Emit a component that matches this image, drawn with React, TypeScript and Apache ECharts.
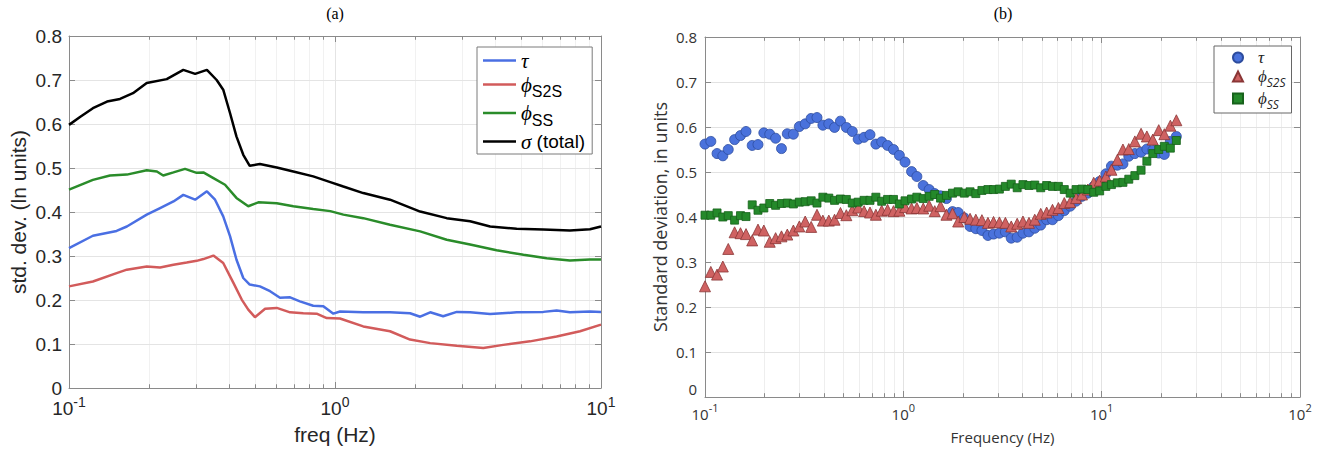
import React, { useEffect, useRef } from 'react';
import * as echarts from 'echarts';

// ---------- Panel (a): std. dev. vs freq (line curves) ----------
const tauA: [number, number][] = [
  [0.1, 0.318], [0.123, 0.346], [0.151, 0.357], [0.165, 0.367], [0.196, 0.394], [0.22, 0.409],
  [0.247, 0.424], [0.269, 0.439], [0.298, 0.428], [0.33, 0.447], [0.354, 0.428], [0.38, 0.39],
  [0.403, 0.345], [0.426, 0.292], [0.452, 0.25], [0.478, 0.235], [0.522, 0.231], [0.57, 0.22],
  [0.621, 0.205], [0.678, 0.206], [0.738, 0.197], [0.828, 0.187], [0.904, 0.186], [0.986, 0.169],
  [1.044, 0.174], [1.277, 0.172], [1.61, 0.172], [1.915, 0.17], [2.09, 0.162], [2.28, 0.172],
  [2.55, 0.163], [2.87, 0.173], [3.22, 0.172], [3.83, 0.168], [4.82, 0.172], [6.07, 0.173],
  [6.81, 0.176], [7.64, 0.172], [9.09, 0.174], [10, 0.173],
];
const phiS2SA: [number, number][] = [
  [0.1, 0.231], [0.123, 0.242], [0.151, 0.261], [0.165, 0.269], [0.196, 0.276], [0.22, 0.274],
  [0.247, 0.28], [0.277, 0.285], [0.302, 0.289], [0.32, 0.293], [0.349, 0.301], [0.38, 0.284],
  [0.415, 0.239], [0.446, 0.201], [0.472, 0.178], [0.5, 0.161], [0.546, 0.18], [0.604, 0.182],
  [0.678, 0.172], [0.76, 0.17], [0.853, 0.169], [0.931, 0.159], [1.044, 0.158], [1.277, 0.14],
  [1.61, 0.129], [1.915, 0.11], [2.28, 0.102], [2.87, 0.096], [3.61, 0.091], [4.29, 0.098],
  [5.41, 0.106], [6.81, 0.117], [8.34, 0.129], [10, 0.144],
];
const phiSSA: [number, number][] = [
  [0.1, 0.451], [0.123, 0.473], [0.1426, 0.483], [0.165, 0.485], [0.196, 0.495], [0.214, 0.492],
  [0.226, 0.483], [0.247, 0.49], [0.273, 0.498], [0.302, 0.489], [0.32, 0.49], [0.349, 0.477],
  [0.386, 0.462], [0.426, 0.432], [0.472, 0.413], [0.515, 0.422], [0.604, 0.42], [0.697, 0.413],
  [0.828, 0.407], [0.96, 0.402], [1.075, 0.394], [1.277, 0.386], [1.61, 0.371], [2.09, 0.356],
  [2.63, 0.337], [3.22, 0.326], [4.05, 0.313], [5.11, 0.303], [6.25, 0.295], [7.64, 0.29],
  [9.09, 0.292], [10, 0.292],
];
const sigmaA: [number, number][] = [
  [0.1, 0.598], [0.11, 0.616], [0.123, 0.636], [0.139, 0.651], [0.1555, 0.657], [0.174, 0.67],
  [0.196, 0.693], [0.233, 0.702], [0.269, 0.723], [0.298, 0.714], [0.33, 0.723], [0.359, 0.7],
  [0.38, 0.678], [0.403, 0.625], [0.426, 0.572], [0.452, 0.53], [0.478, 0.505], [0.522, 0.509],
  [0.604, 0.501], [0.697, 0.492], [0.828, 0.481], [0.96, 0.468], [1.075, 0.458], [1.277, 0.443],
  [1.61, 0.428], [2.09, 0.401], [2.63, 0.386], [3.22, 0.379], [3.83, 0.367], [4.82, 0.362],
  [6.07, 0.36], [7.64, 0.358], [9.09, 0.361], [10, 0.367],
];

// ---------- Panel (b): standard deviation vs frequency (markers) ----------
const freqB = [
  0.1, 0.107, 0.115, 0.123, 0.131, 0.141, 0.151, 0.161, 0.173, 0.185,
  0.198, 0.212, 0.227, 0.243, 0.26, 0.279, 0.299, 0.32, 0.343, 0.367,
  0.393, 0.421, 0.45, 0.482, 0.516, 0.553, 0.592, 0.634, 0.679, 0.727,
  0.778, 0.833, 0.892, 0.955, 1.02, 1.1, 1.17, 1.26, 1.35, 1.44,
  1.54, 1.65, 1.77, 1.89, 2.03, 2.17, 2.32, 2.49, 2.67, 2.85,
  3.05, 3.27, 3.5, 3.75, 4.01, 4.3, 4.6, 4.93, 5.28, 5.65,
  6.05, 6.48, 6.94, 7.43, 7.96, 8.52, 9.12, 9.77, 10.5, 11.2,
  12.0, 12.8, 13.7, 14.7, 15.8, 16.9, 18.1, 19.4, 20.7, 22.2,
  23.8,
];
const tauB = [
  0.562, 0.568, 0.541, 0.536, 0.55, 0.572, 0.581, 0.59, 0.559, 0.561,
  0.587, 0.584, 0.575, 0.552, 0.585, 0.584, 0.601, 0.607, 0.619, 0.621,
  0.604, 0.607, 0.599, 0.613, 0.599, 0.59, 0.573, 0.577, 0.583, 0.562,
  0.567, 0.559, 0.55, 0.537, 0.522, 0.501, 0.49, 0.47, 0.461, 0.452,
  0.447, 0.441, 0.412, 0.41, 0.398, 0.379, 0.374, 0.37, 0.359, 0.362,
  0.364, 0.367, 0.353, 0.355, 0.364, 0.367, 0.375, 0.382, 0.394, 0.394,
  0.403, 0.414, 0.424, 0.435, 0.446, 0.453, 0.468, 0.479, 0.496, 0.513,
  0.515, 0.518, 0.535, 0.541, 0.544, 0.551, 0.548, 0.542, 0.539, 0.568,
  0.579,
];
const phiS2SB = [
  0.246, 0.278, 0.272, 0.29, 0.329, 0.366, 0.364, 0.362, 0.348, 0.372,
  0.37, 0.345, 0.353, 0.357, 0.361, 0.37, 0.379, 0.39, 0.378, 0.405,
  0.392, 0.392, 0.394, 0.409, 0.404, 0.415, 0.421, 0.413, 0.41, 0.405,
  0.414, 0.416, 0.413, 0.414, 0.422, 0.419, 0.42, 0.419, 0.425, 0.413,
  0.424, 0.405, 0.408, 0.39, 0.4, 0.396, 0.394, 0.393, 0.387, 0.389,
  0.388, 0.387, 0.379, 0.385, 0.39, 0.387, 0.394, 0.407, 0.41, 0.416,
  0.42, 0.431, 0.433, 0.442, 0.45, 0.461, 0.476, 0.481, 0.49, 0.505,
  0.527, 0.55, 0.551, 0.568, 0.585, 0.579, 0.572, 0.593, 0.584, 0.603,
  0.615,
];
const phiSSB = [
  0.404, 0.404, 0.409, 0.4, 0.403, 0.393, 0.403, 0.401, 0.427, 0.415,
  0.42, 0.43, 0.426, 0.43, 0.431, 0.429, 0.433, 0.434, 0.436, 0.431,
  0.444, 0.442, 0.437, 0.44, 0.439, 0.431, 0.433, 0.437, 0.437, 0.444,
  0.435, 0.439, 0.439, 0.429, 0.436, 0.44, 0.444, 0.441, 0.446, 0.45,
  0.442, 0.448, 0.453, 0.456, 0.453, 0.456, 0.452, 0.459, 0.461, 0.461,
  0.462, 0.468, 0.473, 0.465, 0.472, 0.47, 0.471, 0.465, 0.47, 0.468,
  0.468, 0.461, 0.453, 0.461, 0.462, 0.461, 0.455, 0.458, 0.468, 0.472,
  0.476, 0.477, 0.484, 0.492, 0.504, 0.524, 0.541, 0.55, 0.557, 0.553,
  0.57,
];

// minor (log) tick positions
const minorA = [0.2, 0.3, 0.4, 0.5, 0.6, 0.7, 0.8, 0.9, 2, 3, 4, 5, 6, 7, 8, 9];
const minorB = [0.2, 0.3, 0.4, 0.5, 0.6, 0.7, 0.8, 0.9, 2, 3, 4, 5, 6, 7, 8, 9, 20, 30, 40, 50, 60, 70, 80, 90];

const FONT_A = '"Liberation Sans", Arial, sans-serif';
const FONT_B = '"Open Sans", "DejaVu Sans", sans-serif';
const SERIF = '"Liberation Serif", "DejaVu Serif", "Times New Roman", serif';

const expFmt = (v: number) => `{b|10}{s|${Math.round(Math.log10(v))}}`;

function minorGridSeries(xi: number, yi: number, freqs: number[], color: string) {
  return {
    type: 'line', name: '_grid' + xi, xAxisIndex: xi, yAxisIndex: yi, data: [], silent: true, z: 1,
    markLine: {
      silent: true, z: 1, symbol: ['none', 'none'], label: { show: false }, animation: false,
      lineStyle: { color, width: 1, type: 'solid' },
      data: freqs.map((f) => ({ xAxis: f })),
    },
  };
}
function minorTickSeries(xi: number, yi: number, freqs: number[], len: number, color: string) {
  const data: any[] = [];
  freqs.forEach((f) => {
    data.push([{ coord: [f, 0] }, { coord: [f, len] }]);
    data.push([{ coord: [f, 0.8] }, { coord: [f, 0.8 - len] }]);
  });
  return {
    type: 'line', name: '_tick' + xi, xAxisIndex: xi, yAxisIndex: yi, data: [], silent: true, z: 4,
    markLine: {
      silent: true, z: 6, symbol: ['none', 'none'], label: { show: false }, animation: false,
      lineStyle: { color, width: 1, type: 'solid' },
      data,
    },
  };
}

const AX_A = '#8a8a8a';
const AX_B = '#8a8a8a';

export default function App() {
  const ref = useRef<HTMLDivElement>(null);
  useEffect(() => {
    if (!ref.current) return;
    const chart = echarts.init(ref.current, undefined, { renderer: 'svg' });
    const xLog = (grid: number, pos: 'bottom' | 'top', max: number, font: string, size: number, sup: number, color: string, axc: string, showLabel: boolean, margin: number, lh: number) => ({
      type: 'log', logBase: 10, gridIndex: grid, position: pos, min: 0.1, max,
      axisLine: { show: true, onZero: false, lineStyle: { color: axc, width: 1 } },
      axisTick: { show: true, inside: true, length: 6, lineStyle: { color: axc } },
      axisLabel: {
        show: showLabel, margin, formatter: expFmt,
        rich: {
          b: { fontFamily: font, fontSize: size, color, lineHeight: lh, verticalAlign: 'bottom' },
          s: { fontFamily: font, fontSize: sup, color, verticalAlign: 'top' },
        },
      },
      splitLine: { show: pos === 'bottom', lineStyle: { color: grid === 0 ? '#e4e4e4' : '#e2e2e2', width: 1 } },
      z: 3,
    });
    const yVal = (grid: number, pos: 'left' | 'right', font: string, size: number, color: string, axc: string, showLabel: boolean, margin: number, liftZero: boolean) => ({
      type: 'value', gridIndex: grid, position: pos, min: 0, max: 0.8, interval: 0.1,
      axisLine: { show: true, lineStyle: { color: axc, width: 1 } },
      axisTick: { show: true, inside: true, length: 6, lineStyle: { color: axc } },
      axisLabel: {
        show: showLabel, margin, fontFamily: font, fontSize: size, color,
        formatter: liftZero ? (v: number) => (Math.abs(v) < 1e-9 ? '{z|0}' : String(Math.round(v * 10) / 10)) : undefined,
        rich: liftZero ? { z: { fontFamily: font, fontSize: size, color, padding: [0, 0, 16, 0] } } : undefined,
      },
      splitLine: { show: pos === 'left', lineStyle: { color: grid === 0 ? '#e4e4e4' : '#e2e2e2', width: 1 } },
      z: 3,
    });

    const xA0: any = xLog(0, 'bottom', 10, FONT_A, 19, 14, '#262626', AX_A, true, 7, 23);
    xA0.name = 'freq (Hz)';
    xA0.nameLocation = 'middle';
    xA0.nameGap = 36;
    xA0.nameTextStyle = { fontFamily: FONT_A, fontSize: 21, color: '#262626' };
    const xA1 = xLog(0, 'top', 10, FONT_A, 19, 14, '#262626', AX_A, false, 6, 23);
    const xB0: any = xLog(1, 'bottom', 100, FONT_B, 15, 11, '#333', AX_B, true, 5, 19);
    xB0.name = 'Frequency (Hz)';
    xB0.nameLocation = 'middle';
    xB0.nameGap = 32;
    xB0.nameTextStyle = { fontFamily: FONT_B, fontSize: 15, color: '#333' };
    const xB1 = xLog(1, 'top', 100, FONT_B, 15, 11, '#333', AX_B, false, 5, 19);

    const yA0: any = yVal(0, 'left', FONT_A, 19, '#262626', AX_A, true, 7, false);
    yA0.name = 'std. dev. (ln units)';
    yA0.nameLocation = 'middle';
    yA0.nameGap = 40;
    yA0.nameTextStyle = { fontFamily: FONT_A, fontSize: 21, color: '#262626' };
    const yA1 = yVal(0, 'right', FONT_A, 19, '#262626', AX_A, false, 7, false);
    const yB0: any = yVal(1, 'left', FONT_B, 15, '#333', AX_B, true, 8, true);
    yB0.name = 'Standard deviation, in units';
    yB0.nameLocation = 'middle';
    yB0.nameGap = 36;
    yB0.nameTextStyle = { fontFamily: FONT_B, fontSize: 18, color: '#333' };
    const yB1 = yVal(1, 'right', FONT_B, 15, '#333', AX_B, false, 8, false);

    const lineS = (name: string, data: [number, number][], color: string) => ({
      type: 'line', name, data, xAxisIndex: 0, yAxisIndex: 0, showSymbol: false, symbol: 'none',
      lineStyle: { color, width: 2.5 }, itemStyle: { color }, z: 3,
    });
    const scatS = (name: string, vals: number[], symbol: string, size: number, color: string, border: string) => ({
      type: 'scatter', name, data: freqB.map((f, i) => [f, vals[i]]), xAxisIndex: 2, yAxisIndex: 2,
      symbol, symbolSize: size, itemStyle: { color, borderColor: border, borderWidth: 0.8, opacity: 1 }, z: 3,
    });

    const fmtA = (n: string) => {
      if (n === 'τ') return '{gt|τ}';
      if (n === 'ϕS2S') return '{gp|ϕ}{sub|S2S}';
      if (n === 'ϕSS') return '{gp|ϕ}{sub|SS}';
      return '{gt|σ}{t| (total)}';
    };
    const fmtB = (n: string) => {
      if (n === 'τ (b)') return '{gt|τ}';
      if (n === 'ϕS2S (b)') return '{gp|ϕ}{sub|S2S}';
      return '{gp|ϕ}{sub|SS}';
    };

    const option: any = {
      animation: false,
      backgroundColor: '#ffffff',
      textStyle: { fontFamily: FONT_A },
      graphic: [
        { type: 'text', x: 335, y: 13, style: { text: '(a)', fill: '#000', font: '16px "Liberation Serif", serif', textAlign: 'center', textVerticalAlign: 'middle', verticalAlign: 'middle' } },
        { type: 'text', x: 1003, y: 13, style: { text: '(b)', fill: '#000', font: '16px "Liberation Serif", serif', textAlign: 'center', textVerticalAlign: 'middle', verticalAlign: 'middle' } },
      ],
      grid: [
        { left: 69, top: 36, width: 532, height: 352, containLabel: false },
        { left: 705, top: 37, width: 595, height: 360, containLabel: false },
      ],
      xAxis: [xA0, xA1, xB0, xB1],
      yAxis: [yA0, yA1, yB0, yB1],
      legend: [
        {
          orient: 'vertical', left: 477, top: 47, padding: [3, 7, 2, 6], itemGap: 3,
          itemWidth: 33, itemHeight: 2.5, selectedMode: false,
          backgroundColor: '#fff', borderColor: '#7a7a7a', borderWidth: 1,
          data: [
            { name: 'τ', icon: 'rect' }, { name: 'ϕS2S', icon: 'rect' },
            { name: 'ϕSS', icon: 'rect' }, { name: 'σ (total)', icon: 'rect' },
          ],
          formatter: fmtA,
          textStyle: {
            color: '#000',
            rich: {
              gt: { fontFamily: SERIF, fontStyle: 'italic', fontSize: 21, color: '#000' },
              gp: { fontFamily: SERIF, fontStyle: 'italic', fontSize: 21, color: '#000' },
              sub: { fontFamily: FONT_A, fontSize: 16, padding: [14, 0, 0, 0], color: '#000' },
              t: { fontFamily: FONT_A, fontSize: 19, color: '#000' },
            },
          },
        },
        {
          orient: 'vertical', left: 1214, top: 46, padding: [3, 6, 3, 18], itemGap: 2,
          itemWidth: 10, itemHeight: 10, selectedMode: false, symbolKeepAspect: true,
          backgroundColor: '#fff', borderColor: '#666', borderWidth: 1,
          data: [
            { name: 'τ (b)', icon: 'circle' },
            { name: 'ϕS2S (b)', icon: 'triangle' },
            { name: 'ϕSS (b)', icon: 'rect' },
          ],
          formatter: fmtB,
          textStyle: {
            color: '#222',
            rich: {
              gt: { fontFamily: SERIF, fontStyle: 'italic', fontSize: 17, color: '#222', padding: [0, 0, 0, 10] },
              gp: { fontFamily: SERIF, fontStyle: 'italic', fontSize: 17, color: '#222', padding: [0, 0, 0, 10] },
              sub: { fontFamily: FONT_B, fontStyle: 'italic', fontSize: 12, padding: [11, 0, 0, 0], color: '#222' },
            },
          },
        },
      ],
      series: [
        minorGridSeries(0, 0, minorA, '#f1f1f1'),
        minorGridSeries(2, 2, minorB, '#eeeeee'),
        lineS('τ', tauA, '#4a6fe3'),
        lineS('ϕS2S', phiS2SA, '#d25b5b'),
        lineS('ϕSS', phiSSA, '#2a8c2a'),
        lineS('σ (total)', sigmaA, '#000000'),
        scatS('τ (b)', tauB, 'circle', 10, '#4a72dc', '#2d4c9e'),
        scatS('ϕS2S (b)', phiS2SB, 'triangle', 11, '#cf6262', '#8a3636'),
        scatS('ϕSS (b)', phiSSB, 'rect', 8, '#24892a', '#17621b'),
        minorTickSeries(0, 0, minorA, 0.0085, AX_A),
        minorTickSeries(2, 2, minorB, 0.0085, AX_B),
      ],
    };
    chart.setOption(option);
    return () => chart.dispose();
  }, []);
  return <div ref={ref} style={{ position: 'fixed', left: 0, top: 0, width: 1327, height: 456, background: '#fff' }} />;
}
